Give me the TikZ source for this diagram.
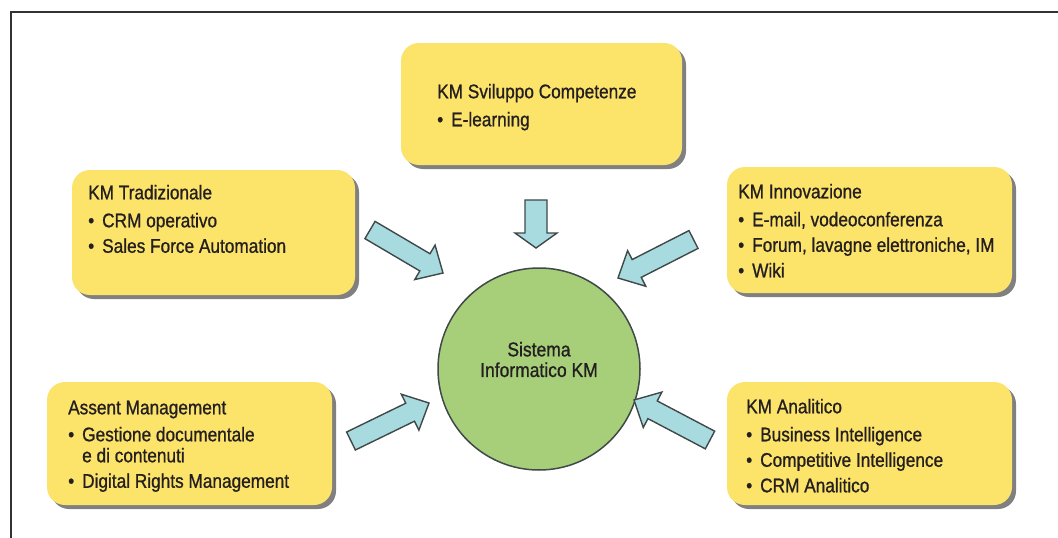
\documentclass[tikz,border=0pt]{standalone}
\usepackage{fontspec}
\setmainfont{Liberation Sans}[FakeStretch=0.875, FakeBold=0.9]
\usetikzlibrary{calc,shadows}

\definecolor{boxyellow}{RGB}{252,227,105}
\definecolor{coregreen}{RGB}{167,207,121}
\definecolor{arrowblue}{RGB}{168,219,224}
\definecolor{edgegray}{RGB}{64,72,72}
\definecolor{inkdark}{RGB}{35,31,32}
\definecolor{framegray}{RGB}{50,50,50}

% block arrow: tail, tip, shaft half width, head half width, head length
\newcommand{\blockarrow}[5]{%
  \coordinate (h) at ($(#2)!#5!(#1)$);
  \draw[blockarr] ($(#1)!#3!90:(#2)$) -- ($(h)!#3!-90:(#1)$) -- ($(h)!#4!-90:(#1)$)
    -- (#2) -- ($(h)!#4!90:(#1)$) -- ($(h)!#3!90:(#1)$) -- ($(#1)!#3!-90:(#2)$) -- cycle;}
\newcommand{\itm}[1]{\makebox[14pt][l]{•}#1}
\newcommand{\cnt}[1]{\makebox[14pt][l]{}#1}

\begin{document}
\begin{tikzpicture}[x=1pt,y=-1pt,
  kmbox/.style={draw=none, fill=boxyellow, rounded corners=18pt, inner sep=0pt,
    drop shadow={shadow xshift=4pt, shadow yshift=-4pt, fill=black!55, opacity=0.9}},
  boxtext/.style={anchor=north west, inner sep=0pt, align=left, text=inkdark,
    font=\fontsize{19.7}{25.5}\selectfont},
  blockarr/.style={draw=edgegray, fill=arrowblue, line width=1.4pt, line join=miter},
  core/.style={circle, draw=edgegray, fill=coregreen, line width=1.5pt, inner sep=0pt}]

\useasboundingbox (0,0) rectangle (1058,538);
\fill[white] (0,0) rectangle (1058,538);

% frame
\draw[framegray, line width=1.6pt] (1058,12) -- (11,12) -- (11,538);

% boxes
\node[kmbox, minimum width=281pt, minimum height=122pt] (sv) at (541.5,104) {};
\node[kmbox, minimum width=283pt, minimum height=125pt] (trad) at (213.5,232.5) {};
\node[kmbox, minimum width=285pt, minimum height=126pt] (inn) at (869.5,230) {};
\node[kmbox, minimum width=285pt, minimum height=123pt] (asset) at (189.5,443.5) {};
\node[kmbox, minimum width=285pt, minimum height=123pt] (anal) at (869.5,443.5) {};

% box texts (first baseline minus strut height)
\node[boxtext] (svtext) at (437,80.2)
  {\strut KM Sviluppo Competenze\\[2.5pt]\itm{E-learning}};
\node[boxtext] (tradtext) at (88,181.2)
  {\strut KM Tradizionale\\[2.5pt]\itm{CRM operativo}\\\itm{Sales Force Automation}};
\node[boxtext] (inntext) at (738,180.2)
  {\strut KM Innovazione\\[2.5pt]\itm{E-mail, vodeoconferenza}\\\itm{Forum, lavagne elettroniche, IM}\\\itm{Wiki}};
\node[boxtext] (assettext) at (68,396.2)
  {\strut Assent Management\\[1.5pt]\itm{Gestione documentale}\\[-4.5pt]\cnt{e di contenuti}\\\itm{Digital Rights Management}};
\node[boxtext] (analtext) at (746,395.2)
  {\strut KM Analitico\\[2.5pt]\itm{Business Intelligence}\\\itm{Competitive Intelligence}\\\itm{CRM Analitico}};

% central circle
\node[core, minimum size=202pt] (km) at (539,369) {};
\node[inner sep=0pt, align=center, text=inkdark, font=\fontsize{20}{20.6}\selectfont]
  (kmtext) at (539,359.5) {Sistema\\Informatico KM};

% arrow end points
\coordinate (a1s) at (536,200);   \coordinate (a1e) at (536,248);
\coordinate (a2s) at (370,230);   \coordinate (a2e) at (443,273);
\coordinate (a3s) at (693.5,239.5); \coordinate (a3e) at (618,278);
\coordinate (a4s) at (351,441);   \coordinate (a4e) at (429,403);
\coordinate (a5s) at (710,440);   \coordinate (a5e) at (634,400);

\blockarrow{a1s}{a1e}{11pt}{21pt}{15pt}
\blockarrow{a2s}{a2e}{10pt}{20pt}{21pt}
\blockarrow{a3s}{a3e}{10pt}{20pt}{21pt}
\blockarrow{a4s}{a4e}{10pt}{20pt}{21pt}
\blockarrow{a5s}{a5e}{10pt}{20pt}{21pt}
\end{tikzpicture}
\end{document}
